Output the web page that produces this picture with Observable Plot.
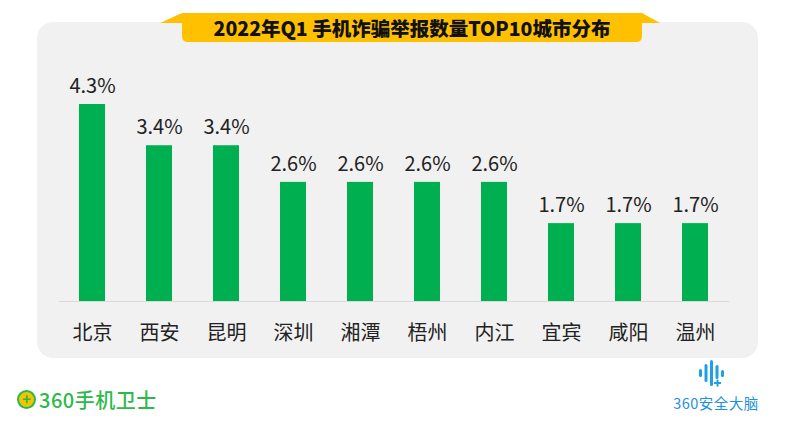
<!DOCTYPE html>
<html>
<head>
<meta charset="utf-8">
<script src="https://cdn.jsdelivr.net/npm/d3@7"></script>
<script src="https://cdn.jsdelivr.net/npm/@observablehq/plot@0.6"></script>
<style>
  html, body { margin: 0; padding: 0; background: #fff; }
  body { font-family: "Noto Sans CJK SC", "Noto Sans", sans-serif; }
  #wrap { position: relative; width: 794px; height: 426px; overflow: hidden; }
  #panel { position: absolute; left: 37px; top: 22px; width: 721px; height: 336px;
           background: #f1f1f1; border-radius: 16px; }
  #deco { position: absolute; left: 0; top: 0; }
  #title { position: absolute; left: 182px; top: 13px; width: 460px; height: 29px;
           text-align: center; line-height: 29px; font-size: 19.5px; font-weight: 900; color: #111; }
  #chart { position: absolute; left: 0; top: 0; }
  #logo1 { position: absolute; left: 17px; top: 385px; display: flex; align-items: center; }
  #logo1 .ic { width: 19px; height: 19px; border-radius: 50%; background: #f5c400;
               border: 2px solid #2db84a; box-sizing: border-box; color: #2db84a; font-weight: bold;
               font-size: 15px; line-height: 14px; text-align: center; }
  #logo1 .tx { margin-left: 3px; color: #2db84a; font-size: 20px; font-weight: 500; letter-spacing: 0.5px; }
  #logo2 { position: absolute; left: 660px; top: 392px; width: 112px; text-align: center;
           color: #1f8fe0; font-size: 14.5px; letter-spacing: 0.5px; }
</style>
</head>
<body>
<div id="wrap">
  <div id="panel"></div>
  <svg id="deco" width="794" height="426">
    <path d="M160,23 L182,13 L642,13 L660,23 L642,23 L642,36 Q642,42 636,42 L188,42 Q182,42 182,36 L182,23 Z" fill="#ffc000"/>
    <g fill="#1ea0e6">
      <rect x="699" y="369" width="3" height="8" rx="1.5"/>
      <rect x="704.5" y="364" width="3" height="18" rx="1.5"/>
      <rect x="710" y="360" width="3" height="26" rx="1.5"/>
      <rect x="715.5" y="365" width="3" height="14" rx="1.5"/>
      <rect x="721" y="370" width="3" height="7" rx="1.5"/>
      <rect x="714" y="382" width="7" height="2"/>
      <rect x="716.5" y="379.5" width="2" height="7"/>
    </g>
  </svg>
  <div id="title">2022年Q1 手机诈骗举报数量TOP10城市分布</div>
  <div id="chart"></div>
  <div id="logo1"><div class="ic">+</div><div class="tx">360手机卫士</div></div>
  <div id="logo2">360安全大脑</div>
</div>
<script>
const cities = ["北京", "西安", "昆明", "深圳", "湘潭", "梧州", "内江", "宜宾", "咸阳", "温州"];
const shares = [4.3, 3.4, 3.4, 2.6, 2.6, 2.6, 2.6, 1.7, 1.7, 1.7];

const data = cities.map((c, i) => ({city: c, value: shares[i]}));

const chart = Plot.plot({
  width: 794,
  height: 426,
  marginLeft: 59,
  marginRight: 65,
  marginTop: 104,
  marginBottom: 125,
  style: {background: "transparent", fontFamily: "'Noto Sans CJK SC', sans-serif", color: "#222"},
  x: {domain: cities, paddingInner: 0.61, paddingOuter: 0.305},
  y: {domain: [0, 4.3], axis: null},
  marks: [
    Plot.ruleY([0], {stroke: "#d9d9d9", strokeWidth: 1}),
    Plot.barY(data, {x: "city", y: "value", fill: "#00b050"}),
    Plot.text(data, {x: "city", y: "value", text: d => d.value.toFixed(1) + "%",
                     dy: -18, fontSize: 20, fill: "#222"}),
    Plot.axisX({tickSize: 0, tickPadding: 24, fontSize: 20, label: null, fill: "#222"})
  ]
});
document.getElementById("chart").appendChild(chart);
</script>
</body>
</html>
